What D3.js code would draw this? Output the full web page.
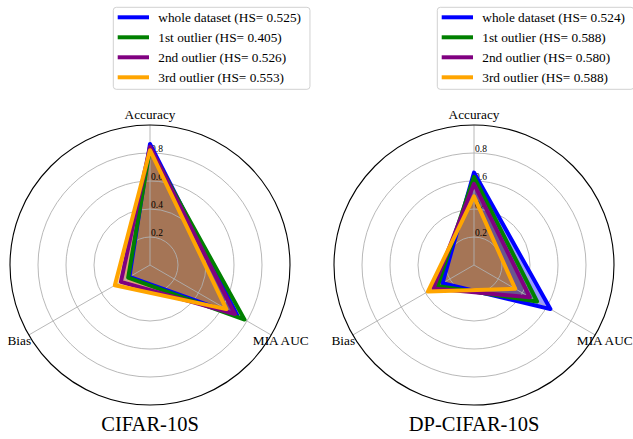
<!DOCTYPE html>
<html><head><meta charset="utf-8">
<script src="https://cdn.jsdelivr.net/npm/d3@7"></script>
<style>body{margin:0;background:#fff}svg{display:block}</style>
</head><body>
<svg id="c" width="633" height="439" font-family="'Liberation Serif', 'Times New Roman', serif"></svg>
<script>
const axes = ["Accuracy", "MIA AUC", "Bias"];
const seriesNames = ["whole dataset", "1st outlier", "2nd outlier", "3rd outlier"];
const colors = ["#0000ff", "#008000", "#800080", "#ffa500"];
const rTicks = [0.2, 0.4, 0.6, 0.8];
const titles = ["CIFAR-10S", "DP-CIFAR-10S"];
const hsLeft = ["0.525", "0.405", "0.526", "0.553"];
const hsRight = ["0.524", "0.588", "0.580", "0.588"];
// values per series: [Accuracy, MIA AUC, Bias]
const leftValues = [
  [0.865, 0.72, 0.17],
  [0.83, 0.78, 0.18],
  [0.845, 0.70, 0.24],
  [0.82, 0.63, 0.29]
];
const rightValues = [
  [0.66, 0.63, 0.26],
  [0.63, 0.52, 0.30],
  [0.58, 0.46, 0.335],
  [0.49, 0.34, 0.38]
];

const FONT = "'Liberation Serif', 'Times New Roman', serif";
const svg = d3.select("#c");
const R = 140;
const r = d3.scaleLinear().domain([0, 1]).range([0, R]);
const ang = d3.scaleLinear().domain([0, axes.length]).range([0, 2 * Math.PI]);

function panel(cx, cy, values, hs, title) {
  const g = svg.append("g").attr("transform", `translate(${cx},${cy})`);
  const line = d3.lineRadial().angle((d, i) => ang(i)).radius(d => r(d)).curve(d3.curveLinearClosed);
  // fills (lowest layer)
  values.forEach((v, k) => {
    g.append("path").attr("d", line(v)).attr("fill", colors[k]).attr("fill-opacity", 0.4).attr("stroke", "none");
  });
  // ring grid
  g.selectAll("circle.grid").data(rTicks).join("circle").attr("class", "grid")
    .attr("r", d => r(d)).attr("fill", "none").attr("stroke", "#b0b0b0").attr("stroke-width", 0.9);
  // spokes
  g.selectAll("line.spoke").data(axes).join("line").attr("class", "spoke")
    .attr("x1", 0).attr("y1", 0)
    .attr("x2", (d, i) => r(1) * Math.sin(ang(i)))
    .attr("y2", (d, i) => -r(1) * Math.cos(ang(i)))
    .attr("stroke", "#b0b0b0").attr("stroke-width", 0.9);
  // r tick labels
  g.selectAll("text.rt").data(rTicks).join("text").attr("class", "rt")
    .attr("x", 1).attr("y", d => -r(d) - 4.5)
    .attr("dominant-baseline", "central")
    .attr("font-family", FONT)
    .attr("font-size", 9.5).attr("fill", "#000")
    .text(d => d.toFixed(1));
  // lines
  values.forEach((v, k) => {
    g.append("path").attr("d", line(v)).attr("fill", "none")
      .attr("stroke", colors[k]).attr("stroke-width", 4).attr("stroke-linejoin", "round");
  });
  // outer spine
  g.append("circle").attr("r", r(1)).attr("fill", "none").attr("stroke", "#000").attr("stroke-width", 1.1);
  // axis labels
  g.selectAll("text.al").data(axes).join("text").attr("class", "al")
    .attr("x", (d, i) => 151 * Math.sin(ang(i)))
    .attr("y", (d, i) => -151 * Math.cos(ang(i)))
    .attr("text-anchor", "middle").attr("dominant-baseline", "central")
    .attr("font-family", FONT)
    .attr("font-size", 13.3).attr("fill", "#000")
    .text(d => d);
  // title
  svg.append("text").attr("x", cx).attr("y", 431).attr("text-anchor", "middle")
    .attr("font-family", FONT)
    .attr("font-size", 20.5).attr("fill", "#000").text(title);
  // legend
  const lg = svg.append("g").attr("transform", `translate(${cx},0)`);
  const box = lg.append("rect").attr("x", -36.7).attr("y", 7.3).attr("height", 82)
    .attr("rx", 3).attr("fill", "#fff").attr("fill-opacity", 0.8).attr("stroke", "#cccccc").attr("stroke-width", 0.9);
  let maxEnd = 0;
  seriesNames.forEach((s, k) => {
    const y = 17.3 + 20 * k;
    lg.append("line").attr("x1", -32.3).attr("x2", -1).attr("y1", y).attr("y2", y)
      .attr("stroke", colors[k]).attr("stroke-width", 4);
    const t = lg.append("text").attr("x", 8.3).attr("y", y).attr("dominant-baseline", "central")
      .attr("font-family", FONT)
      .attr("font-size", 13.3).attr("fill", "#000").text(`${s} (HS= ${hs[k]})`);
    maxEnd = Math.max(maxEnd, 8.3 + t.node().getComputedTextLength());
  });
  box.attr("width", maxEnd + 9 + 36.7);
}

panel(150, 265, leftValues, hsLeft, titles[0]);
panel(474, 265, rightValues, hsRight, titles[1]);
</script>
</body></html>
